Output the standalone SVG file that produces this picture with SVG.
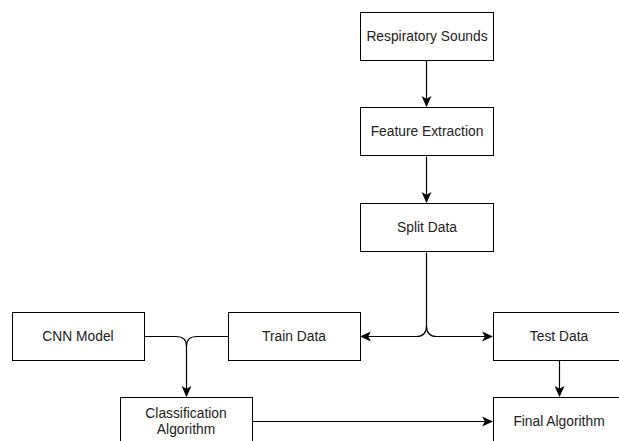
<svg xmlns="http://www.w3.org/2000/svg" width="619" height="441" viewBox="0 0 619 441">
<style>
.box{fill:#fff;stroke:#000;stroke-width:1}
.t{font-family:"Liberation Sans",Arial,sans-serif;font-size:13.8px;fill:#222;text-anchor:middle}
.c{fill:none;stroke:#000;stroke-width:1.2}
</style>
<defs>
<marker id="a" viewBox="0 0 10 10" refX="9" refY="5" markerWidth="11" markerHeight="11" markerUnits="userSpaceOnUse" orient="auto">
<path d="M0,0.5 L10,5 L0,9.5 L2.5,5 Z" fill="#000"/>
</marker>
</defs>
<rect width="619" height="441" fill="#fff"/>
<g id="connectors">
<path class="c" d="M426.5,60.5 V106" marker-end="url(#a)"/>
<path class="c" d="M426.5,156.5 V202" marker-end="url(#a)"/>
<path class="c" d="M426.5,252.5 V326 Q426.5,336.5 416.5,336.5 H361" marker-end="url(#a)"/>
<path class="c" d="M426.5,326 Q426.5,336.5 436.5,336.5 H492" marker-end="url(#a)"/>
<path class="c" d="M144,336.5 H176 Q186.5,336.5 186.5,346 V396" marker-end="url(#a)"/>
<path class="c" d="M228,336.5 H197 Q186.5,336.5 186.5,346"/>
<path class="c" d="M559.5,360.5 V396" marker-end="url(#a)"/>
<path class="c" d="M252.5,421.5 H492" marker-end="url(#a)"/>
</g>
<g id="respiratory">
<rect class="box" x="360.5" y="12.5" width="133" height="48"/>
<text class="t" x="427" y="41">Respiratory Sounds</text>
</g>
<g id="feature">
<rect class="box" x="360.5" y="107.5" width="133" height="48"/>
<text class="t" x="427" y="136">Feature Extraction</text>
</g>
<g id="split">
<rect class="box" x="360.5" y="203.5" width="133" height="48"/>
<text class="t" x="427" y="232">Split Data</text>
</g>
<g id="cnn">
<rect class="box" x="12.5" y="312.5" width="132" height="48"/>
<text class="t" x="78" y="341">CNN Model</text>
</g>
<g id="train">
<rect class="box" x="228.5" y="312.5" width="132" height="48"/>
<text class="t" x="294" y="341">Train Data</text>
</g>
<g id="test">
<rect class="box" x="493.5" y="312.5" width="133" height="48"/>
<text class="t" x="559" y="341">Test Data</text>
</g>
<g id="classification">
<rect class="box" x="120.5" y="397.5" width="132" height="48"/>
<text class="t" x="186" y="418">Classification</text>
<text class="t" x="186" y="434">Algorithm</text>
</g>
<g id="final">
<rect class="box" x="493.5" y="397.5" width="133" height="48"/>
<text class="t" x="559" y="426">Final Algorithm</text>
</g>
</svg>
